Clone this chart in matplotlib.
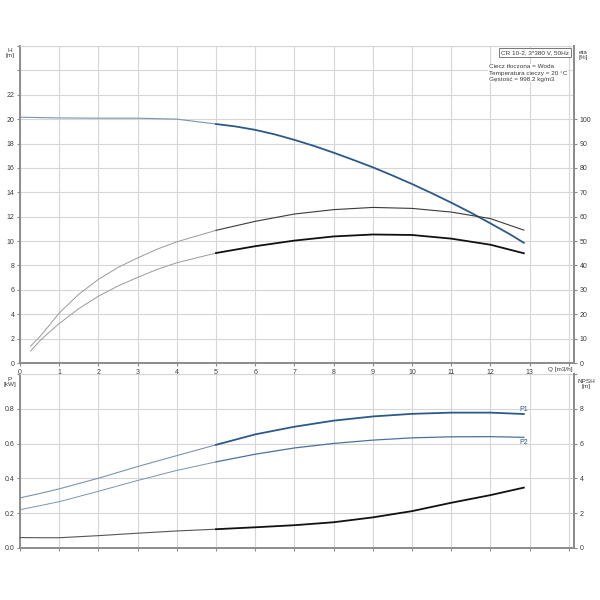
import matplotlib
matplotlib.use("Agg")
import matplotlib.pyplot as plt
import numpy as np

plt.rcParams['font.family'] = ['Liberation Sans', 'DejaVu Sans']

# pump curve data
q_h = [0, 1, 2, 3, 4, 5, 5.5, 6, 6.5, 7, 7.5, 8, 8.5, 9, 9.5, 10, 10.5, 11, 11.5, 12, 12.5, 12.85]
h = [20.16, 20.1, 20.08, 20.08, 20.0, 19.6, 19.4, 19.12, 18.75, 18.3, 17.8, 17.25, 16.66,
     16.05, 15.38, 14.68, 13.93, 13.15, 12.33, 11.45, 10.55, 9.86]

q_eta = [0.27, 0.5, 0.75, 1, 1.5, 2, 2.5, 3, 3.5, 4, 5, 6, 7, 8, 9, 10, 11, 12, 12.85]
eta_upper = [6.9, 10.7, 15.5, 20.5, 28.2, 34.3, 39.2, 43.1, 46.7, 49.7, 54.4, 58.1, 61.1,
             62.9, 63.8, 63.4, 61.9, 59.2, 54.5]
eta_lower = [4.9, 9.0, 12.7, 16.2, 22.3, 27.4, 31.6, 35.1, 38.4, 41.1, 45.1, 47.9, 50.2,
             51.9, 52.7, 52.5, 51.0, 48.5, 45.0]

q_p = [0, 0.5, 1, 2, 3, 4, 5, 6, 7, 8, 9, 10, 11, 12, 12.85]
p1 = [0.288, 0.313, 0.340, 0.401, 0.468, 0.531, 0.593, 0.653, 0.697, 0.732, 0.756, 0.771, 0.778, 0.778, 0.770]
p2 = [0.220, 0.243, 0.266, 0.326, 0.388, 0.446, 0.495, 0.539, 0.575, 0.601, 0.620, 0.633, 0.639, 0.640, 0.636]
npsh = [0.60, 0.59, 0.59, 0.71, 0.85, 0.98, 1.08, 1.19, 1.31, 1.48, 1.76, 2.12, 2.60, 3.04, 3.47]

q_ticks = list(range(0, 15))
q_labels = [str(i) for i in range(0, 14)] + [""]
h_ticks = list(range(0, 28, 2))
eta_ticks = list(range(0, 110, 10))
p_ticks = [0.0, 0.2, 0.4, 0.6, 0.8, 1.0]
npsh_ticks = [0, 2, 4, 6, 8, 10]

q_split = 5
BLUE = "#2b5a8a"
BLUE_THIN = "#7d93ad"
GRID = "#d6d6d6"
SPINE = "#8c8c8c"
TXT = "#3a3a3a"
FS = 4.6      # captions and info box
TFS = 5.0     # tick labels


def split(q, y):
    q = np.asarray(q, float)
    y = np.asarray(y, float)
    a = q <= q_split
    b = q >= q_split
    return (q[a], y[a]), (q[b], y[b])


def style(ax):
    ax.set_xlim(0, 14.13)
    ax.set_xticks(q_ticks)
    ax.grid(True, color=GRID, linewidth=0.8)
    ax.set_axisbelow(True)
    for s in ["left", "bottom", "right"]:
        ax.spines[s].set_color(SPINE)
        ax.spines[s].set_linewidth(1.4)
    ax.spines["top"].set_color(GRID)
    ax.spines["top"].set_linewidth(0.8)
    ax.tick_params(colors=SPINE, labelcolor=TXT, labelsize=TFS, length=2.5, width=0.8, pad=1.5)


def right_axis(ax):
    ax.tick_params(colors=SPINE, labelcolor=TXT, labelsize=TFS, length=2.5, width=0.8, pad=1.5)
    for s in ax.spines.values():
        s.set_visible(False)
    ax.spines["right"].set_visible(True)
    ax.spines["right"].set_color(SPINE)
    ax.spines["right"].set_linewidth(1.4)


fig = plt.figure(figsize=(6, 6), dpi=100)

# ---- top panel: H and eta
ax1 = fig.add_axes([20 / 600, 1 - 363 / 600, 554 / 600, 317 / 600])
style(ax1)
ax1.set_ylim(0, 26)
ax1.set_yticks(h_ticks)
ax1.set_yticklabels([str(t) if t <= 22 else "" for t in h_ticks])
ax1.set_xticklabels(q_labels)

ax1b = ax1.twinx()
ax1b.set_ylim(0, 130)
ax1b.set_yticks(eta_ticks)
right_axis(ax1b)

(t, k) = split(q_eta, eta_upper)
ax1b.plot(*t, color="#9a9a9a", lw=0.7)
ax1b.plot(*k, color="#3a3a3a", lw=0.8)
(t, k) = split(q_eta, eta_lower)
ax1b.plot(*t, color="#9a9a9a", lw=0.7)
ax1b.plot(*k, color="#111111", lw=1.3)

(t, k) = split(q_h, h)
ax1.plot(*t, color=BLUE_THIN, lw=0.8)
ax1.plot(*k, color=BLUE, lw=1.3)

# ---- bottom panel: P and NPSH
ax2 = fig.add_axes([20 / 600, 1 - 548 / 600, 554 / 600, 174 / 600])
style(ax2)
ax2.set_ylim(0, 1.0)
ax2.set_yticks(p_ticks)
ax2.set_yticklabels(["0.0", "0.2", "0.4", "0.6", "0.8", ""])
ax2.tick_params(axis="x", labelbottom=False)

ax2b = ax2.twinx()
ax2b.set_ylim(0, 10)
ax2b.set_yticks(npsh_ticks)
ax2b.set_yticklabels(["0", "2", "4", "6", "8", ""])
right_axis(ax2b)

(t, k) = split(q_p, p1)
ax2.plot(*t, color=BLUE_THIN, lw=0.8)
ax2.plot(*k, color=BLUE, lw=1.3)
(t, k) = split(q_p, p2)
ax2.plot(*t, color=BLUE_THIN, lw=0.7)
ax2.plot(*k, color="#4a719c", lw=0.9)
(t, k) = split(q_p, npsh)
ax2b.plot(*t, color="#555555", lw=0.8)
ax2b.plot(*k, color="#111111", lw=1.3)

ax2.text(q_p[-1], p1[-1] + 0.026, "P1", color=BLUE, fontsize=TFS, ha="center", va="center")
ax2.text(q_p[-1], p2[-1] - 0.03, "P2", color=BLUE, fontsize=TFS, ha="center", va="center")

# axis captions
fig.text(10 / 600, 1 - 53 / 600, "H\n[m]", fontsize=FS, color=TXT, ha="center", va="center", linespacing=1.2)
fig.text(583 / 600, 1 - 55 / 600, "eta\n[%]", fontsize=FS, color=TXT, ha="center", va="center", linespacing=1.2)
fig.text(10 / 600, 1 - 382 / 600, "P\n[kW]", fontsize=FS, color=TXT, ha="center", va="center", linespacing=1.2)
fig.text(586 / 600, 1 - 384 / 600, "NPSH\n[m]", fontsize=FS, color=TXT, ha="center", va="center", linespacing=1.2)
fig.text(560 / 600, 1 - 369 / 600, "Q [m3/h]", fontsize=FS, color=TXT, ha="center", va="center")

# info box
fig.text(569 / 600, 1 - 52.5 / 600, "CR 10-2, 3*380 V, 50Hz", fontsize=FS, color=TXT, ha="right", va="center",
         bbox=dict(facecolor="white", edgecolor="#777777", linewidth=0.7, pad=1.6))
fig.text(489 / 600, 1 - 73 / 600,
         "Ciecz tłoczona = Woda\nTemperatura cieczy = 20 °C\nGęstość = 998.2 kg/m3",
         fontsize=FS, color=TXT, ha="left", va="center", linespacing=1.3,
         bbox=dict(facecolor="white", edgecolor="none", pad=0.5))

fig.savefig("out.png", dpi=100)
